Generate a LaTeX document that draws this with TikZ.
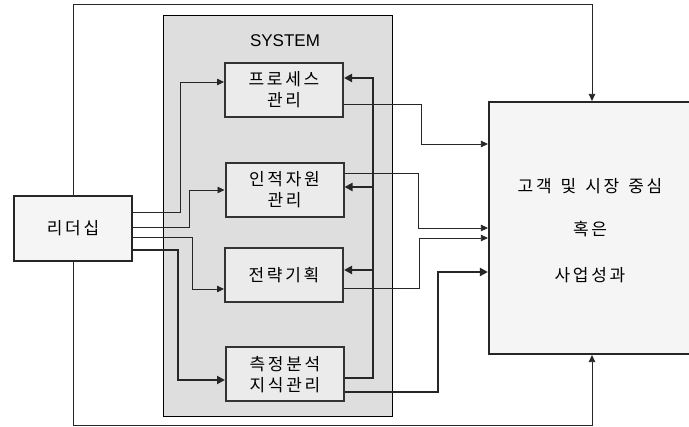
\documentclass[tikz,border=0pt]{standalone}
\usepackage{fontspec}
\setmainfont{Noto Sans CJK KR}[LetterSpace=16]
\newfontfamily\latinfont{Liberation Sans}
\usetikzlibrary{arrows.meta}
\tikzset{
  ko/.style={font=\fontsize{17}{21}\selectfont},
  sysbox/.style={draw=black!80, line width=2pt, fill=black!8, minimum width=118pt, minimum height=54pt, align=center, inner sep=0pt, ko},
  bigbox/.style={draw=black!85, line width=2.2pt, fill=black!4, inner sep=0pt, align=center, ko},
  thinline/.style={draw=black!85, line width=0.8pt},
  thinarrow/.style={thinline, -{Triangle[length=7pt,width=6.5pt]}},
  thickline/.style={draw=black!85, line width=2.4pt},
  thickarrow/.style={thickline, -{Triangle[length=8pt,width=8pt]}},
}
\begin{document}
\begin{tikzpicture}[x=1pt,y=-1pt]
\useasboundingbox (0,0) rectangle (689,427);
\fill[white] (0,0) rectangle (689,427);
% system panel
\node[draw=black, line width=0.8pt, fill=black!13, minimum width=229pt, minimum height=401pt, inner sep=0pt] (sys) at (278,216) {};
\node[font=\latinfont\fontsize{17}{21}\selectfont] (systxt) at (285,41) {SYSTEM};
% boxes
\node[sysbox] (b1) at (284,90) {프로세스\\관리};
\node[sysbox] (b2) at (284.5,190) {인적자원\\관리};
\node[sysbox] (b3) at (284,275.5) {전략기획};
\node[sysbox] (b4) at (285,374.5) {측정분석\\지식관리};
\node[bigbox, minimum width=118pt, minimum height=65pt] (lead) at (73,228.5) {리더십};
\node[bigbox, minimum width=202pt, minimum height=252pt] (res) at (590,228) {};
\node[ko] (r1) at (590,186) {고객\hspace{9pt}및\hspace{9pt}시장\hspace{9pt}중심};
\node[ko] (r2) at (590,229) {혹은};
\node[ko] (r3) at (590,275) {사업성과};
% outer loop
\draw[thinarrow] (lead.north) -- (73,4) -- (592,4) -- (res.north -| 592,0);
\draw[thinarrow] (lead.south) -- (73,425.5) -- (592,425.5) -- (res.south -| 592,0);
% leader to boxes
\draw[thinarrow] (lead.east |- 0,212) -- (180,212) -- (180,82) -- (b1.west |- 0,82);
\draw[thinarrow] (lead.east |- 0,227) -- (189,227) -- (189,190) -- (b2.west |- 0,190);
\draw[thinarrow] (lead.east |- 0,237) -- (192,237) -- (192,289) -- (b3.west |- 0,289);
\draw[thickarrow] (lead.east |- 0,250) -- (178,250) -- (178,380) -- (b4.west |- 0,380);
% feedback loop
\draw[thickarrow] (b4.east |- 0,378) -- (373,378) -- (373,78) -- (b1.east |- 0,78);
\draw[thickarrow] (373,187) -- (b2.east |- 0,187);
\draw[thickarrow] (373,270) -- (b3.east |- 0,270);
% to results
\draw[thinarrow] (b1.east |- 0,104) -- (421,104) -- (421,144) -- (res.west |- 0,144);
\draw[thinarrow] (b2.east |- 0,173) -- (418,173) -- (418,228) -- (res.west |- 0,228);
\draw[thinarrow] (b3.east |- 0,288) -- (419,288) -- (419,238) -- (res.west |- 0,238);
\draw[thickarrow] (b4.east |- 0,392) -- (438,392) -- (438,272) -- (res.west |- 0,272);
\end{tikzpicture}
\end{document}
